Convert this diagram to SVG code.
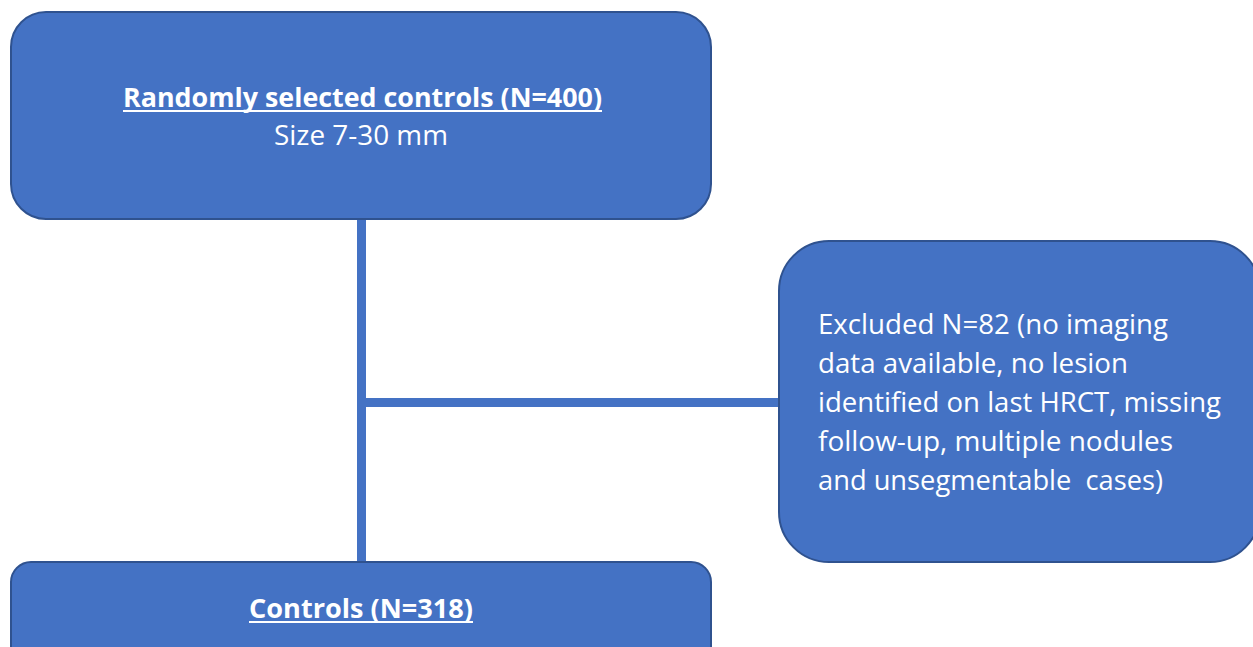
<svg xmlns="http://www.w3.org/2000/svg" width="1253" height="647" viewBox="0 0 1253 647">
<style>
.box{fill:#4472C4;stroke:#2F528F;stroke-width:2}
.conn{stroke:#4472C4;stroke-width:9;fill:none}
.t{font-family:"Open Sans","Liberation Sans",sans-serif;fill:#ffffff}
.b{font-weight:bold}
.ul{fill:#ffffff}
</style>
<rect width="1253" height="647" fill="#ffffff"/>
<g id="connectors">
<line class="conn" x1="361.5" y1="218" x2="361.5" y2="563"/>
<line class="conn" x1="361.5" y1="402.5" x2="781" y2="402.5"/>
</g>
<g id="node-random">
<rect class="box" x="11" y="12" width="700" height="207" rx="35"/>
<text class="t b" x="123" y="107" font-size="27" textLength="479" lengthAdjust="spacingAndGlyphs">Randomly selected controls (N=400)</text>
<rect class="ul" x="123" y="110" width="479" height="2"/>
<text class="t" x="274" y="145" font-size="27" textLength="174" lengthAdjust="spacingAndGlyphs">Size 7-30 mm</text>
</g>
<g id="node-excluded">
<rect class="box" x="779" y="241" width="481" height="321" rx="50"/>
<text class="t" font-size="27" xml:space="preserve">
<tspan x="818" y="334" textLength="350" lengthAdjust="spacingAndGlyphs">Excluded N=82 (no imaging</tspan>
<tspan x="818" y="373" textLength="310" lengthAdjust="spacingAndGlyphs">data available, no lesion</tspan>
<tspan x="818" y="412" textLength="403" lengthAdjust="spacingAndGlyphs">identified on last HRCT, missing</tspan>
<tspan x="818" y="451" textLength="355" lengthAdjust="spacingAndGlyphs">follow-up, multiple nodules</tspan>
<tspan x="818" y="490" textLength="345" lengthAdjust="spacingAndGlyphs">and unsegmentable  cases)</tspan>
</text>
</g>
<g id="node-controls">
<rect class="box" x="11" y="562" width="700" height="110" rx="20"/>
<text class="t b" x="249" y="618" font-size="27" textLength="224" lengthAdjust="spacingAndGlyphs">Controls (N=318)</text>
<rect class="ul" x="249" y="621" width="224" height="2"/>
</g>
</svg>
